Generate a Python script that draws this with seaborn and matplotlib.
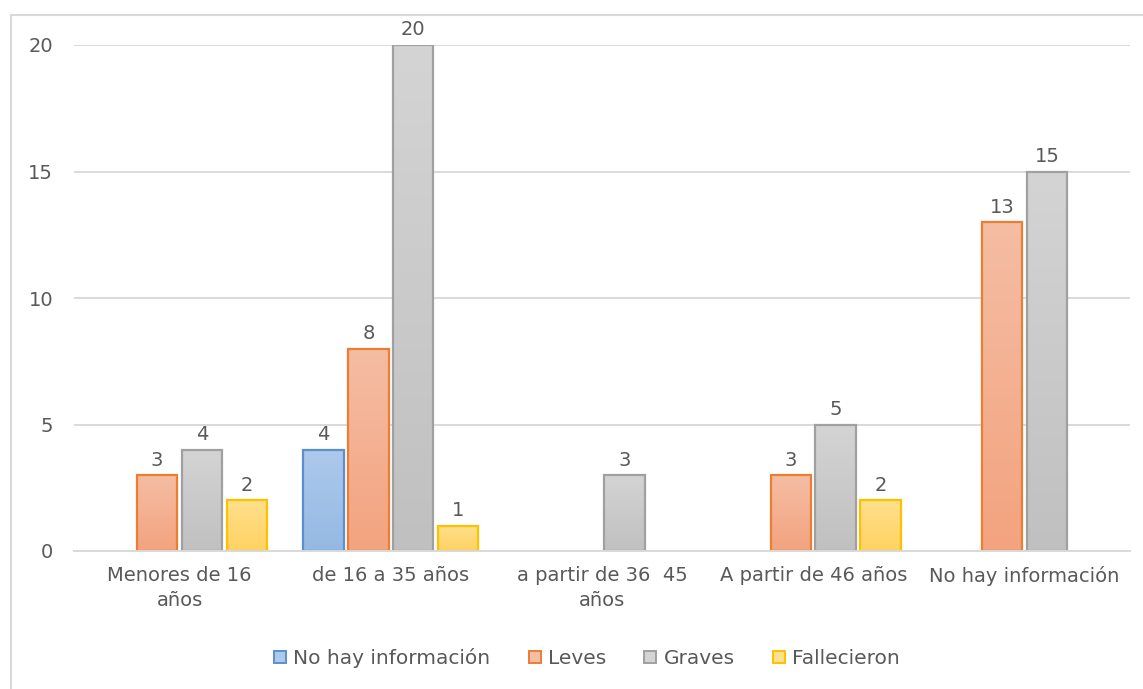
import numpy as np
import pandas as pd
import matplotlib
matplotlib.use("Agg")
import matplotlib.pyplot as plt
import seaborn as sns
from matplotlib.colors import LinearSegmentedColormap
from matplotlib.patches import Rectangle, Patch

# ---- data -------------------------------------------------------------
categories = [
    "Menores de 16\naños",
    "de 16 a 35 años",
    "a partir de 36  45\naños",
    "A partir de 46 años",
    "No hay información",
]
series = ["No hay información", "Leves", "Graves", "Fallecieron"]

no_hay_informacion = [np.nan, 4, np.nan, np.nan, np.nan]
leves = [3, 8, np.nan, 3, 13]
graves = [4, 20, 3, 5, 15]
fallecieron = [2, 1, np.nan, 2, np.nan]

# ---- styling ----------------------------------------------------------
edge_colors = {
    "No hay información": "#5B8FCF",
    "Leves": "#ED7D31",
    "Graves": "#A0A0A0",
    "Fallecieron": "#FFC000",
}
# (top, bottom) of the vertical gradient inside each bar
gradients = {
    "No hay información": ("#ADC9EB", "#95B9E3"),
    "Leves": ("#F5BDA3", "#F3A37F"),
    "Graves": ("#D4D4D4", "#C0C0C0"),
    "Fallecieron": ("#FFE08C", "#FFD262"),
}
text_color = "#595959"
grid_color = "#D9D9D9"

sns.set_theme(style="white")
plt.rcParams["font.family"] = ["DejaVu Sans"]

frame = pd.DataFrame({
    "categoria": np.repeat(categories, len(series)),
    "serie": series * len(categories),
    "valor": np.column_stack([no_hay_informacion, leves, graves, fallecieron]).ravel(),
}).dropna()

fig = plt.figure(figsize=(11.43, 6.89), dpi=100)
ax = fig.add_axes([74 / 1143, 1 - 551 / 689, (1130 - 74) / 1143, (551 - 45) / 689])

sns.barplot(
    data=frame, x="categoria", y="valor", hue="serie",
    order=categories, hue_order=series,
    width=0.85, gap=0.1, legend=False, errorbar=None, ax=ax,
)

# one bar container per series, in hue order
for name, cont in zip(series, ax.containers):
    top, bottom = gradients[name]
    cmap = LinearSegmentedColormap.from_list(name, [bottom, top])
    for p in cont:
        h = p.get_height()
        if not np.isfinite(h) or h <= 0:
            continue
        x, w = p.get_x(), p.get_width()
        ax.imshow(
            np.linspace(0, 1, 128).reshape(-1, 1), cmap=cmap, origin="lower",
            extent=[x, x + w, 0, h], aspect="auto", zorder=1.2,
            interpolation="bilinear",
        )
        p.set_facecolor("none")
        p.set_edgecolor(edge_colors[name])
        p.set_linewidth(1.6)
        p.set_zorder(1.5)
    ax.bar_label(cont, fmt="%g", padding=4, fontsize=14, color=text_color)

ax.set_xlim(-0.5, len(categories) - 0.5)
ax.set_ylim(0, 20)

ax.set_yticks([0, 5, 10, 15, 20])
ax.yaxis.grid(True, color=grid_color, linewidth=1.4)
ax.set_axisbelow(True)
for side in ["top", "right", "left"]:
    ax.spines[side].set_visible(False)
ax.spines["bottom"].set_color(grid_color)
ax.spines["bottom"].set_linewidth(1.4)

ax.tick_params(axis="y", length=0, pad=15, labelsize=14, labelcolor=text_color)
ax.tick_params(axis="x", length=0, pad=11, labelsize=14, labelcolor=text_color)
for lbl in ax.get_xticklabels():
    lbl.set_linespacing(1.4)
ax.set_xlabel("")
ax.set_ylabel("")

handles = [
    Patch(facecolor=gradients[s][0], edgecolor=edge_colors[s], linewidth=1.4, label=s)
    for s in series
]
fig.legend(
    handles=handles, loc="center", bbox_to_anchor=(587 / 1143, 1 - 658 / 689),
    ncol=4, frameon=False, fontsize=14.5, labelcolor=text_color,
    handlelength=0.6, handleheight=0.6, handletextpad=0.35, columnspacing=1.9,
)

# light frame around the chart area
fig.add_artist(Rectangle(
    (11 / 1143, -0.01), 1.0, 1 - 15 / 689 + 0.01, transform=fig.transFigure,
    fill=False, edgecolor=grid_color, linewidth=1.5,
))

fig.savefig("out.png", dpi=100)
